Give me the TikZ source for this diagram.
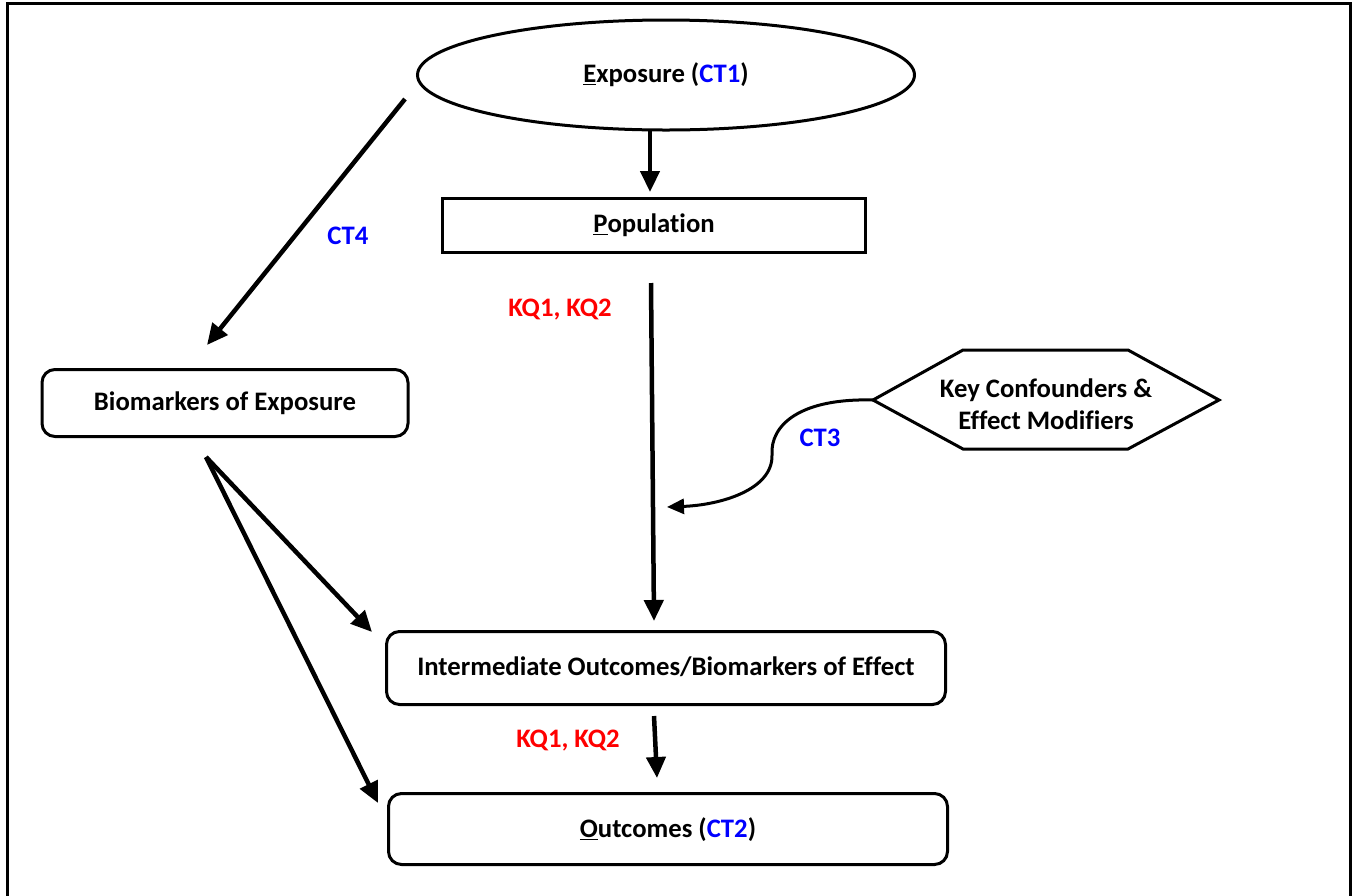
\documentclass[tikz,border=0pt]{standalone}
\usepackage{fontspec}
\setmainfont[Ligatures=NoCommon]{Carlito}
\usetikzlibrary{shapes.geometric,arrows.meta}
\definecolor{ctblue}{RGB}{0,0,255}
\definecolor{kqred}{RGB}{255,0,0}
\begin{document}
\begin{tikzpicture}[x=1pt,y=-1pt,
  every node/.style={font=\fontsize{26.7}{32}\selectfont\bfseries},
  rbox/.style={draw,line width=3pt,rounded corners=13pt,inner sep=0pt,text depth=3pt},
  sbox/.style={draw,line width=3pt,inner sep=0pt,text depth=3pt},
  arr/.style={line width=4.5pt,-{Triangle[length=21pt,width=19pt]}},
  ct/.style={text=ctblue},
  kq/.style={text=kqred}]
\useasboundingbox (0,0) rectangle (1356,895);
\draw[line width=3pt] (7,905) -- (7,3) -- (1350,3) -- (1350,905);
% nodes
\node[ellipse,draw,line width=3pt,minimum width=497,minimum height=110,inner sep=0pt] (exp) at (666,75) {\underline{E}xposure (\textcolor{ctblue}{CT1})};
\node[sbox,minimum width=423,minimum height=54] (pop) at (654,225) {\underline{P}opulation};
\node[rbox,minimum width=366,minimum height=67] (bio) at (225,403) {Biomarkers of Exposure};
\node[rbox,minimum width=559,minimum height=73] (inter) at (666,668) {Intermediate Outcomes/Biomarkers of Effect};
\node[rbox,minimum width=559,minimum height=71] (out) at (668,829) {\underline{O}utcomes (\textcolor{ctblue}{CT2})};
\draw[line width=3pt] (873,400) coordinate (hl) -- (963,350) -- (1128,350) -- (1219,400) -- (1128,449) -- (963,449) -- cycle;
\node[align=center] (hex) at (1046,404) {Key Confounders \&\\Effect Modifiers};
% labels
\node[ct] (ct4) at (348,236) {CT4};
\node[kq] (kq1) at (560,310) {KQ1, KQ2};
\node[ct] (ct3) at (820,438) {CT3};
\node[kq] (kq2) at (568,741) {KQ1, KQ2};
% coordinates
\coordinate (a1) at (650,131);
\coordinate (a1e) at (650,192);
\coordinate (a2) at (405,99);
\coordinate (a2e) at (207,345);
\coordinate (a3) at (651,283);
\coordinate (a3e) at (654,621);
\coordinate (a4) at (206,457);
\coordinate (a4e) at (372,632);
\coordinate (a5e) at (378,803);
\coordinate (a6) at (654,716);
\coordinate (a6e) at (657,778);
\coordinate (a7e) at (667,507);
% connectors
\draw[arr] (a1) -- (a1e);
\draw[arr] (a2) -- (a2e);
\draw[arr] (a3) -- (a3e);
\draw[arr] (a4) -- (a4e);
\draw[arr] (a4) -- (a5e);
\draw[arr] (a6) -- (a6e);
\draw[line width=3pt,-{Triangle[length=17pt,width=15pt]}] (hl) .. controls (800,398) and (770,425) .. (772,455) .. controls (773,490) and (720,505) .. (a7e);
\end{tikzpicture}
\end{document}
